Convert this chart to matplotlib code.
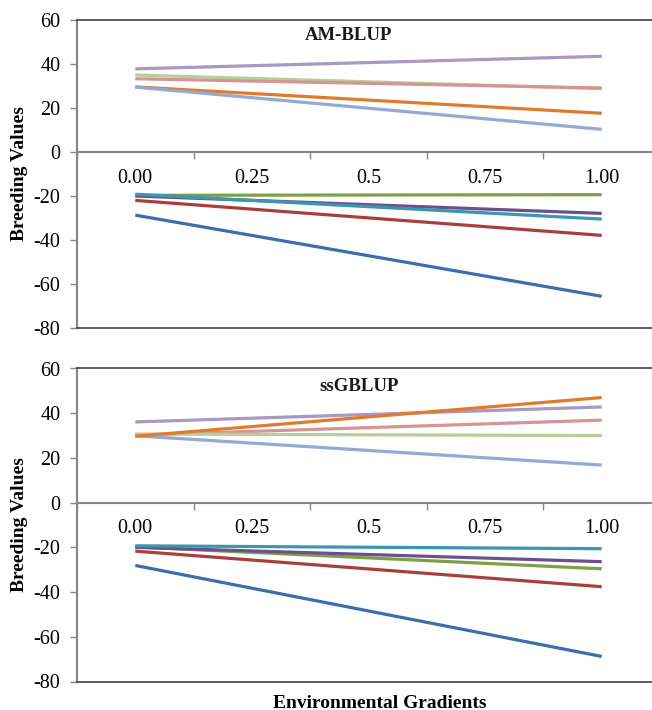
import matplotlib
matplotlib.use("Agg")
import matplotlib.pyplot as plt
import numpy as np

plt.rcParams['font.family'] = ['Liberation Serif', 'DejaVu Serif']

categories = ["0.00", "0.25", "0.5", "0.75", "1.00"]
ends = [0, 4]  # series are drawn from category "0.00" to "1.00"

colors = {
    "blue": "#3C6DAD", "red": "#A7403D", "green": "#7DA046", "purple": "#6C4F8B",
    "teal": "#3A98AE", "orange": "#E07B2E", "lilac": "#A898C2",
    "lightgreen": "#B6CF98", "pink": "#D49594", "lightblue": "#92AAD4",
}

am_blup = {
    "lilac": [37.8, 43.5],
    "lightgreen": [35.0, 28.8],
    "pink": [33.3, 29.1],
    "orange": [29.6, 17.6],
    "lightblue": [29.5, 10.3],
    "green": [-19.7, -19.4],
    "purple": [-20.0, -27.9],
    "teal": [-19.2, -30.5],
    "red": [-22.0, -37.9],
    "blue": [-28.7, -65.6],
}

ssgblup = {
    "lilac": [36.1, 42.8],
    "pink": [30.2, 36.9],
    "lightgreen": [30.7, 30.0],
    "lightblue": [29.9, 16.8],
    "orange": [29.7, 47.0],
    "green": [-19.8, -29.6],
    "purple": [-20.0, -26.4],
    "teal": [-19.3, -20.6],
    "red": [-21.7, -37.6],
    "blue": [-28.1, -68.8],
}

yticks = [60, 40, 20, 0, -20, -40, -60, -80]

fig = plt.figure(figsize=(6.52, 7.10), dpi=100)
left = 77 / 652
width = 583 / 652
axes_specs = [
    (1 - 328 / 710, (328 - 20) / 710, am_blup, "AM-BLUP", (0.465, 0.951)),
    (1 - 681.5 / 710, (681.5 - 368.5) / 710, ssgblup, "ssGBLUP", (0.483, 0.941)),
]

for bottom, height, data, title, tpos in axes_specs:
    ax = fig.add_axes([left, bottom, width, height])
    for key, vals in data.items():
        ax.plot(ends, vals, color=colors[key], lw=2.3, solid_capstyle='butt', zorder=3)
    ax.set_xlim(-0.5, 4.5)
    ax.set_ylim(-80, 60)
    ax.set_yticks(yticks)
    ax.set_yticklabels([str(v) for v in yticks], fontsize=14.5)
    ax.tick_params(axis='y', direction='out', length=5, width=1, color='#868686', pad=7)
    ax.spines['left'].set_color('#868686')
    ax.spines['left'].set_linewidth(1.5)
    ax.spines['top'].set_color('#404040')
    ax.spines['top'].set_linewidth(1.2)
    ax.spines['right'].set_visible(False)
    ax.spines['bottom'].set_position(('data', 0))
    ax.spines['bottom'].set_color('#868686')
    ax.spines['bottom'].set_linewidth(1.5)
    ax.axhline(-80, color='#404040', lw=1.2, clip_on=False, zorder=4)
    ax.set_xticks(range(len(categories)))
    ax.set_xticklabels(categories, fontsize=14.5)
    ax.set_xticks(np.arange(-0.5, 5, 1), minor=True)
    ax.tick_params(axis='x', which='major', length=0, pad=12)
    ax.tick_params(axis='x', which='minor', direction='out', length=5, width=1, color='#868686')
    ax.set_ylabel("Breeding Values", fontsize=14, fontweight='bold', labelpad=4)
    ax.text(tpos[0], tpos[1], title, transform=ax.transAxes, ha='center', va='center',
            fontsize=13.5, fontweight='bold', color='#1a1a1a')

fig.text(380 / 652, 1 - 703 / 710, "Environmental Gradients", ha='center', va='center',
         fontsize=14, fontweight='bold')

fig.savefig("out.png", dpi=100)
